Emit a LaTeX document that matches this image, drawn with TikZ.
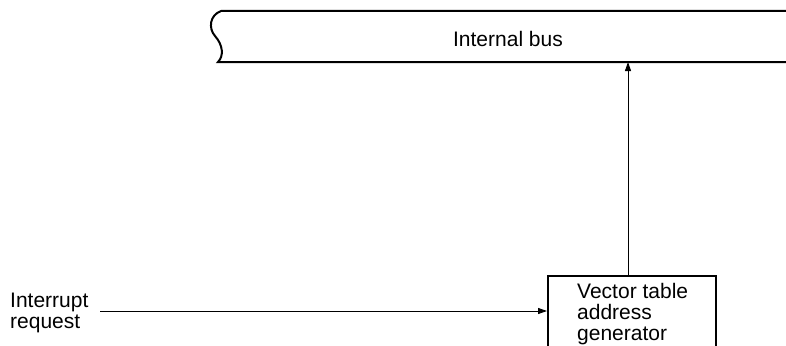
\documentclass[tikz,border=0pt]{standalone}
\usepackage{fontspec}
\setmainfont{Liberation Sans}
\usetikzlibrary{arrows.meta}
\begin{document}
\begin{tikzpicture}[x=1pt,y=-1pt,
  lbl/.style={inner sep=0pt,font=\fontsize{21}{21}\selectfont,align=left},
  thickline/.style={line width=2pt},
  conn/.style={line width=0.9pt,-{Triangle[length=9pt,width=6pt]}}]
\useasboundingbox (0,0) rectangle (786,345);
% internal bus
\draw[thickline] (221,11) -- (799,11)
  .. controls (787,15) and (785,28) .. (792,36)
  .. controls (800,45) and (801,56) .. (795,62) -- (218,62)
  .. controls (224,56) and (223,45) .. (215,36)
  .. controls (208,28) and (210,15) .. (221,11) -- cycle;
\node[lbl,anchor=base] (bus) at (508,47) {Internal bus};
\coordinate (busbottom) at (628,62);
% vector table box
\node[thickline,draw,minimum width=168pt,minimum height=71pt,anchor=north west,inner sep=0pt] (vtag) at (547,275) {};
\node[lbl,anchor=base west] (vtagtext) at (577,340) {Vector table\\address\\generator};
\coordinate (vtagtop) at (628,275);
% interrupt request
\node[lbl,anchor=base west] (irq) at (10,328) {Interrupt\\request};
\coordinate (irqend) at (100,311);
\draw[conn] (irqend) -- (vtag.west |- irqend);
\draw[conn] (vtagtop) -- (busbottom);
\end{tikzpicture}
\end{document}
